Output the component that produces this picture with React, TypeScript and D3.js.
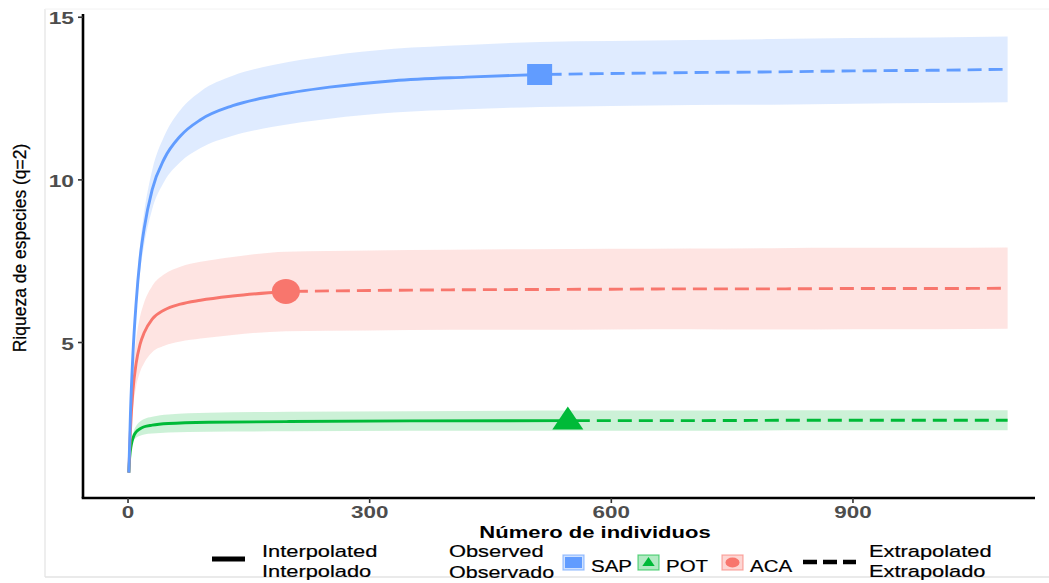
import React from 'react';
import * as d3 from 'd3';

// ---------- data ----------
const xTicks = [0, 300, 600, 900];
const yTicks = [5, 10, 15];

// SAP
const sapN = [1, 3, 6, 10, 15, 20, 30, 45, 65, 90, 130, 180, 250, 330, 420, 511];
const sapEst = [1.0, 2.8, 4.6, 6.2, 7.6, 8.5, 9.7, 10.65, 11.35, 11.85, 12.28, 12.58, 12.85, 13.05, 13.16, 13.24];
const sapLo = [1.0, 2.68, 4.38, 5.88, 7.18, 8.0, 9.1, 9.95, 10.55, 10.98, 11.36, 11.63, 11.88, 12.07, 12.17, 12.24];
const sapHi = [1.0, 2.92, 4.82, 6.52, 8.02, 9.0, 10.3, 11.35, 12.15, 12.72, 13.2, 13.53, 13.82, 14.03, 14.15, 14.24];
const sapExtN = [511, 600, 700, 800, 900, 1000, 1092];
const sapExtEst = [13.24, 13.27, 13.3, 13.32, 13.35, 13.37, 13.4];
const sapExtLo = [12.24, 12.27, 12.3, 12.31, 12.34, 12.36, 12.39];
const sapExtHi = [14.24, 14.27, 14.3, 14.33, 14.36, 14.38, 14.41];

// ACA
const acaN = [1, 3, 6, 10, 15, 20, 30, 45, 65, 90, 130, 196];
const acaEst = [1.0, 2.3, 3.5, 4.35, 4.95, 5.3, 5.72, 6.0, 6.18, 6.3, 6.43, 6.57];
const acaLo = [1.0, 2.0, 2.95, 3.63, 4.1, 4.37, 4.7, 4.9, 5.03, 5.12, 5.23, 5.35];
const acaHi = [1.0, 2.6, 4.05, 5.07, 5.8, 6.23, 6.74, 7.1, 7.33, 7.48, 7.63, 7.79];
const acaExtN = [196, 300, 400, 500, 600, 700, 800, 900, 1000, 1092];
const acaExtEst = [6.57, 6.6, 6.62, 6.63, 6.64, 6.65, 6.65, 6.66, 6.66, 6.67];
const acaExtLo = [5.35, 5.37, 5.39, 5.39, 5.4, 5.41, 5.4, 5.41, 5.41, 5.42];
const acaExtHi = [7.79, 7.83, 7.85, 7.87, 7.88, 7.89, 7.9, 7.91, 7.91, 7.92];

// POT
const potN = [1, 2, 4, 7, 10, 15, 20, 30, 50, 100, 200, 350, 546];
const potEst = [1.0, 1.45, 1.85, 2.12, 2.25, 2.35, 2.41, 2.46, 2.51, 2.55, 2.57, 2.59, 2.6];
const potLo = [1.0, 1.41, 1.76, 1.98, 2.07, 2.13, 2.17, 2.2, 2.23, 2.26, 2.27, 2.29, 2.29];
const potHi = [1.0, 1.49, 1.94, 2.26, 2.43, 2.57, 2.65, 2.72, 2.79, 2.84, 2.87, 2.89, 2.91];
const potExtN = [546, 700, 850, 1000, 1092];
const potExtEst = [2.6, 2.6, 2.61, 2.61, 2.61];
const potExtLo = [2.29, 2.29, 2.3, 2.3, 2.3];
const potExtHi = [2.91, 2.91, 2.92, 2.92, 2.92];

const seriesNames = ['POT', 'ACA', 'SAP'];
const legendOrder = ['SAP', 'POT', 'ACA'];
const colors: Record<string, string> = { SAP: '#619CFF', POT: '#00BA38', ACA: '#F8766D' };

type Pt = { n: number; v: number; lo: number; hi: number };
const zip = (n: number[], v: number[], lo: number[], hi: number[]): Pt[] =>
  n.map((d, i) => ({ n: d, v: v[i], lo: lo[i], hi: hi[i] }));

const seriesData: Record<string, { interp: Pt[]; extrap: Pt[] }> = {
  SAP: { interp: zip(sapN, sapEst, sapLo, sapHi), extrap: zip(sapExtN, sapExtEst, sapExtLo, sapExtHi) },
  ACA: { interp: zip(acaN, acaEst, acaLo, acaHi), extrap: zip(acaExtN, acaExtEst, acaExtLo, acaExtHi) },
  POT: { interp: zip(potN, potEst, potLo, potHi), extrap: zip(potExtN, potExtEst, potExtLo, potExtHi) },
};

// ---------- layout ----------
const W = 1049;
const H = 583;
const FONT = '"Liberation Sans", Arial, Helvetica, sans-serif';
const SX = 1.36; // horizontal stretch seen in the reference text

const x = d3.scaleLinear().domain([-55.9, 1126]).range([83, 1035]);
const y = d3.scaleLinear().domain([0.22, 15.1]).range([498, 14]);

const line = d3
  .line<Pt>()
  .x((d) => x(d.n))
  .y((d) => y(d.v))
  .curve(d3.curveMonotoneX);
const area = d3
  .area<Pt>()
  .x((d) => x(d.n))
  .y0((d) => y(d.lo))
  .y1((d) => y(d.hi))
  .curve(d3.curveMonotoneX);

const ST = ({ x: tx, y: ty, s = SX, anchor = 'start', size = 16, weight = 'normal', fill = '#000', children }: any) => (
  <g transform={`translate(${tx},${ty}) scale(${s},1)`}>
    <text textAnchor={anchor} fontSize={size} fontWeight={weight} fill={fill} fontFamily={FONT}>
      {children}
    </text>
  </g>
);

const Marker = ({ name, cx, cy, scale = 1 }: { name: string; cx: number; cy: number; scale?: number }) => {
  const c = colors[name];
  if (name === 'SAP') {
    const w = 25 * scale, h = 21 * scale;
    return <rect x={cx - w / 2} y={cy - h / 2} width={w} height={h} fill={c} />;
  }
  if (name === 'ACA') {
    return <ellipse cx={cx} cy={cy} rx={14 * scale} ry={12.5 * scale} fill={c} />;
  }
  const hw = 15.5 * scale;
  return (
    <path
      d={`M${cx},${cy - 14 * scale} L${cx + hw},${cy + 9 * scale} L${cx - hw},${cy + 9 * scale} Z`}
      fill={c}
    />
  );
};

export default function App() {
  const legendBoxes: Record<string, number> = { SAP: 563, POT: 638, ACA: 722 };
  return (
    <svg
      width={W}
      height={H}
      style={{ position: 'absolute', left: 0, top: 0, background: '#fff' }}
      xmlns="http://www.w3.org/2000/svg"
    >
      <rect x={0} y={0} width={W} height={H} fill="#fff" />
      {/* faint outer frame */}
      <line x1={45} y1={9} x2={45} y2={577} stroke="#e3e3e3" strokeWidth={1.2} />
      <line x1={45} y1={577} x2={W} y2={577} stroke="#e3e3e3" strokeWidth={1.5} />
      <line x1={45} y1={9} x2={W} y2={9} stroke="#f2f2f2" strokeWidth={1} />

      {/* bands */}
      {seriesNames.map((s) => {
        const d = seriesData[s];
        const all = d.interp.concat(d.extrap.slice(1));
        return <path key={'b' + s} d={area(all) || ''} fill={colors[s]} fillOpacity={0.2} stroke="none" />;
      })}

      {/* lines */}
      {seriesNames.map((s) => {
        const d = seriesData[s];
        return (
          <g key={'l' + s}>
            <path d={line(d.interp) || ''} fill="none" stroke={colors[s]} strokeWidth={2.9} />
            <path
              d={line(d.extrap) || ''}
              fill="none"
              stroke={colors[s]}
              strokeWidth={2.9}
              strokeDasharray="14 7"
              strokeDashoffset={-8}
            />
          </g>
        );
      })}

      {/* observed markers */}
      {seriesNames.map((s) => {
        const obs = seriesData[s].interp[seriesData[s].interp.length - 1];
        return <Marker key={'m' + s} name={s} cx={x(obs.n)} cy={y(obs.v)} />;
      })}

      {/* axes */}
      <line x1={83} y1={14} x2={83} y2={498} stroke="#000" strokeWidth={2.6} />
      <line x1={81.7} y1={498} x2={1035} y2={498} stroke="#000" strokeWidth={2.6} />
      {yTicks.map((t) => (
        <g key={'yt' + t}>
          <line x1={78} x2={83} y1={y(t)} y2={y(t)} stroke="#333" strokeWidth={1.6} />
          <ST x={74} y={y(t) + 7} anchor="end" size={16.5} weight="bold" fill="#4d4d4d" s={1.38}>
            {t}
          </ST>
        </g>
      ))}
      {xTicks.map((t) => (
        <g key={'xt' + t}>
          <line x1={x(t)} x2={x(t)} y1={498} y2={503} stroke="#333" strokeWidth={1.6} />
          <ST x={x(t)} y={518} anchor="middle" size={16.5} weight="bold" fill="#4d4d4d" s={1.36}>
            {t}
          </ST>
        </g>
      ))}

      {/* axis titles */}
      <ST x={595} y={538} anchor="middle" size={16.2} weight="bold" s={1.36}>
        Número de individuos
      </ST>
      <text
        transform="translate(26,248) rotate(-90)"
        textAnchor="middle"
        fontSize={17.5}
        fontFamily={FONT}
        fill="#000"
        stroke="#000"
        strokeWidth={0.25}
      >
        Riqueza de especies (q=2)
      </text>

      {/* legend */}
      <g stroke="#000" strokeWidth={0.2}>
        <line x1={212} x2={245} y1={559} y2={559} stroke="#000" strokeWidth={5} />
        <ST x={262} y={557} s={1.3} size={16.8}>Interpolated</ST>
        <ST x={262} y={577} s={1.3} size={16.8}>Interpolado</ST>
        <ST x={449} y={557} s={1.3} size={16.8}>Observed</ST>
        <ST x={449} y={578} s={1.28} size={16.8}>Observado</ST>
        {legendOrder.map((s) => {
          const bx = legendBoxes[s];
          return (
            <g key={'lg' + s}>
              <rect
                x={bx}
                y={555}
                width={21}
                height={15}
                fill={colors[s]}
                fillOpacity={0.3}
                stroke={colors[s]}
                strokeOpacity={0.6}
                strokeWidth={1.2}
              />
              {s === 'SAP' && <rect x={bx + 2} y={557} width={17} height={11} fill={colors[s]} stroke="none" />}
              {s === 'POT' && (
                <g stroke="none">
                  <Marker name={s} cx={bx + 10.5} cy={562.5} scale={0.4} />
                </g>
              )}
              {s === 'ACA' && <ellipse cx={bx + 10.5} cy={562.5} rx={7} ry={5} fill={colors[s]} stroke="none" />}
              <ST x={bx + 28} y={572} s={1.22} size={16.8}>
                {s}
              </ST>
            </g>
          );
        })}
        <line x1={803} x2={856} y1={562} y2={562} stroke="#000" strokeWidth={4.5} strokeDasharray="14 6" />
        <ST x={869} y={557} s={1.3} size={16.8}>Extrapolated</ST>
        <ST x={869} y={577} s={1.3} size={16.8}>Extrapolado</ST>
      </g>
    </svg>
  );
}
